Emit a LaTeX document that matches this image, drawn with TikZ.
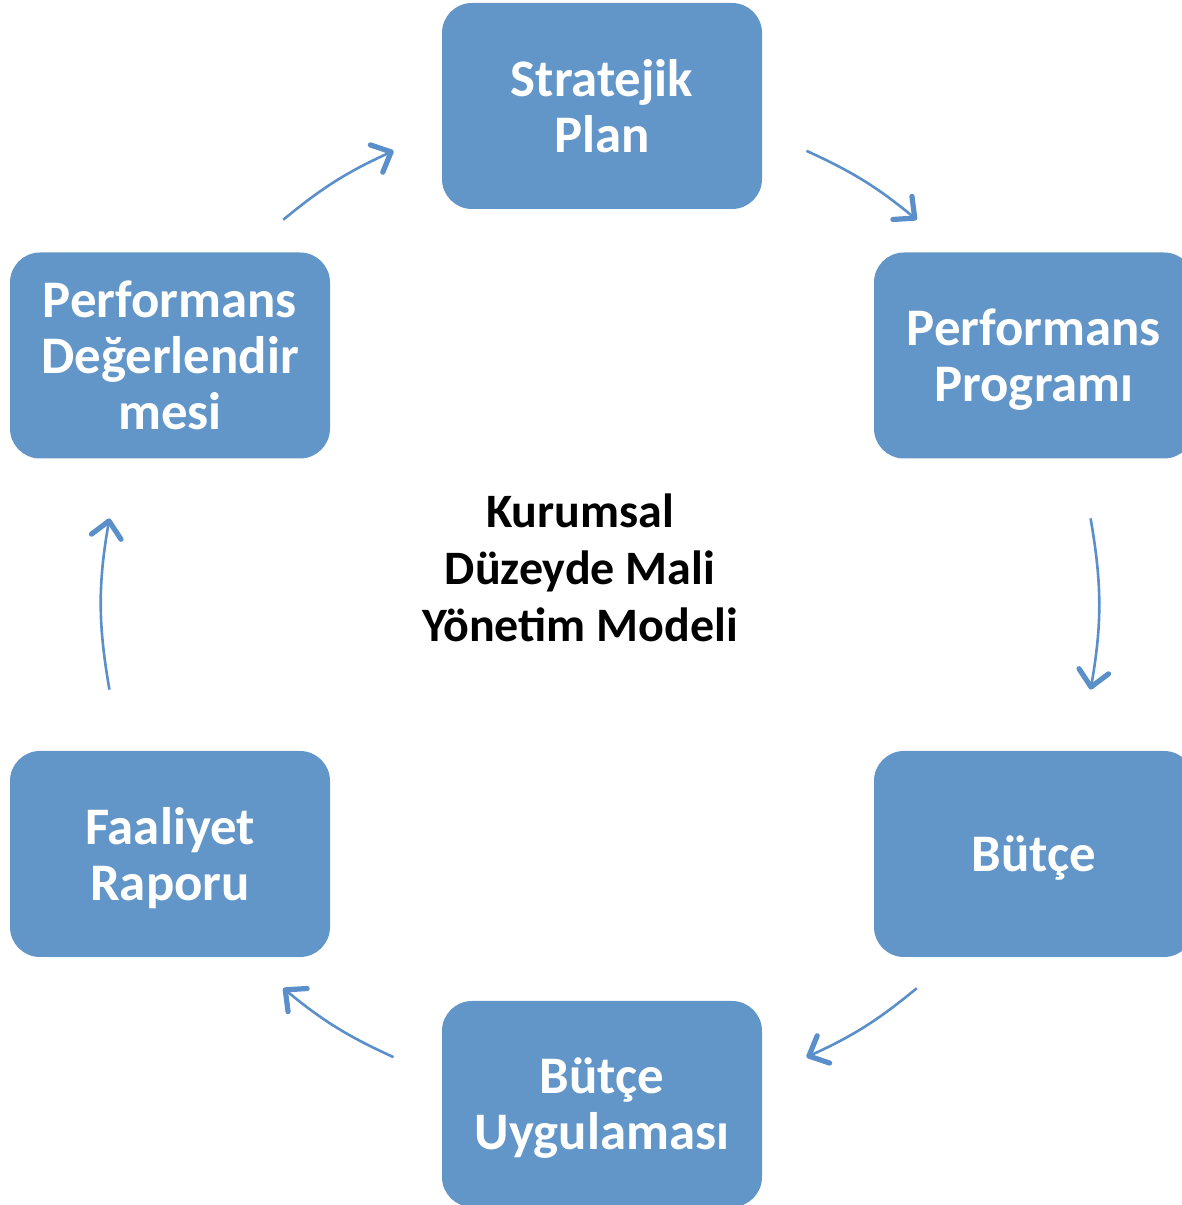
\documentclass[tikz,border=0pt]{standalone}
\usepackage{fontspec}
\setmainfont{Carlito}
\usetikzlibrary{arrows.meta}
\definecolor{boxblue}{RGB}{98,149,200}
\definecolor{arrowblue}{RGB}{90,143,201}

\begin{document}
\begin{tikzpicture}[x=0.5pt,y=0.5pt,
  box/.style={fill=boxblue,rounded corners=15pt,minimum width=160pt,minimum height=103pt,
    align=center,text=white,text depth=0pt,font=\bfseries\fontsize{26.4}{28}\selectfont},
  flow/.style={arrowblue,line width=1.3pt,
    -{Straight Barb[length=8pt,width=15pt,line width=2.6pt,round]}}]

\useasboundingbox (0,0) rectangle (1182,1205);
\clip (0,0) rectangle (1182,1205);

  \node (SP) at (602,1099) [box] {Stratejik\\Plan};
  \node (PP) at (1034,849.5) [box] {Performans\\Programı};
  \node (B) at (1034,351) [box] {Bütçe};
  \node (BU) at (602,101) [box] {Bütçe\\Uygulaması};
  \node (FR) at (170,351) [box] {Faaliyet\\Raporu};
  \node (PD) at (170,849.5) [box] {Performans\\Değerlendir\\mesi};

  \node (M) at (580,637) [align=center,font=\bfseries\fontsize{24}{28.5}\selectfont]
    {Kurumsal\\Düzeyde Mali\\Yönetim Modeli};

%% arrow ends on a circle round O
  \coordinate (O) at (600,601);
  \coordinate (S1) at ([shift={(65.5:498)}]O);
  \coordinate (E1) at ([shift={(50.5:498)}]O);
  \coordinate (S2) at ([shift={(9.9:498)}]O);
  \coordinate (E2) at ([shift={(-9.9:498)}]O);
  \coordinate (S3) at ([shift={(-50.5:498)}]O);
  \coordinate (E3) at ([shift={(-65.5:498)}]O);
  \coordinate (S4) at ([shift={(-114.5:498)}]O);
  \coordinate (E4) at ([shift={(-129.5:498)}]O);
  \coordinate (S5) at ([shift={(-170.1:498)}]O);
  \coordinate (E5) at ([shift={(170.1:498)}]O);
  \coordinate (S6) at ([shift={(129.5:498)}]O);
  \coordinate (E6) at ([shift={(114.5:498)}]O);

\draw[flow]
   (S1) to [bend left=7.5] (E1);
\draw[flow]
   (S2) to [bend left=9.9] (E2);
\draw[flow]
   (S3) to [bend left=7.5] (E3);
\draw[flow]
   (S4) to [bend left=7.5] (E4);
\draw[flow]
   (S5) to [bend left=9.9] (E5);
\draw[flow]
   (S6) to [bend left=7.5] (E6);
\end{tikzpicture}
\end{document}
